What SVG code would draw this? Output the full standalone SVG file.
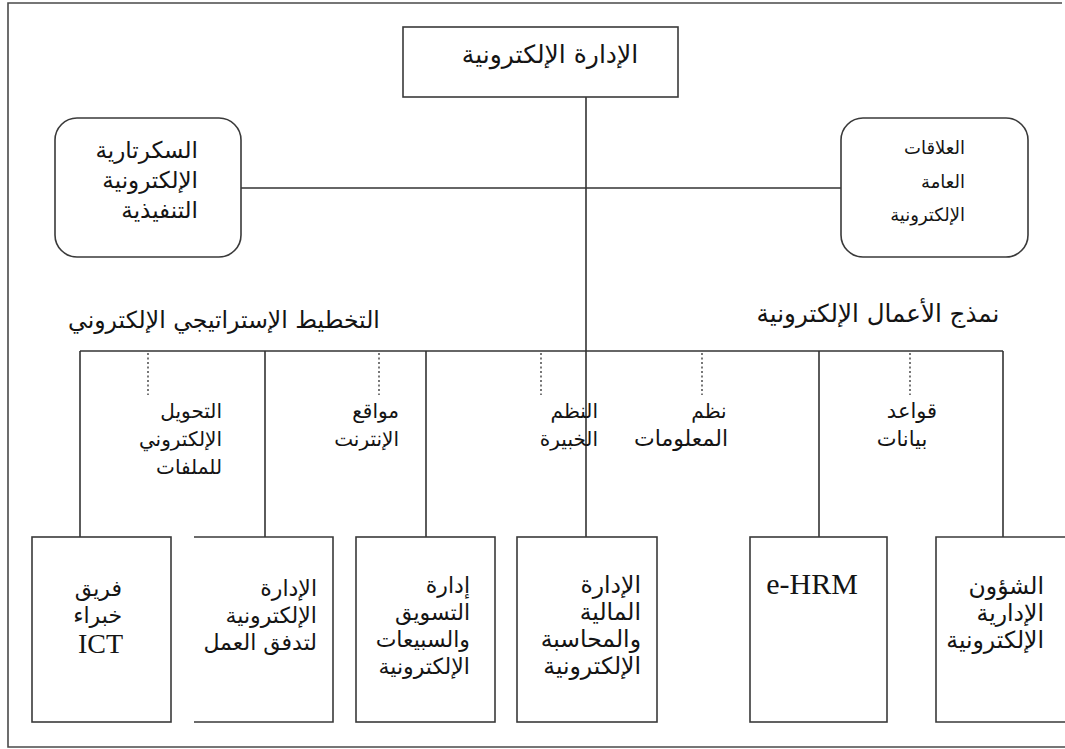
<svg xmlns="http://www.w3.org/2000/svg" width="1065" height="749" viewBox="0 0 1065 749">
  <style>
    .frame { fill: none; stroke: #4a4a4a; stroke-width: 1.6; }
    .box { fill: #ffffff; stroke: #3a3a3a; stroke-width: 1.6; }
    .line { fill: none; stroke: #333333; stroke-width: 1.6; }
    .dot { fill: none; stroke: #555555; stroke-width: 1.6; stroke-dasharray: 2 2.5; }
    text { font-family: "DejaVu Sans", sans-serif; fill: #141414; }
    .lat { font-family: "Liberation Serif", serif; }
    .r { text-anchor: end; }
    .m { text-anchor: middle; }
    .mid { font-size: 20px; }
    .low { font-size: 22px; }
    .big { font-size: 23.5px; }
  </style>

  <rect width="1065" height="749" fill="#ffffff"/>
  <!-- outer border -->
  <path class="frame" d="M1062 3 H8 V747 H1065"/>

  <!-- connectors -->
  <g id="connectors">
    <line class="line" x1="586" y1="97" x2="586" y2="351"/>
    <line class="line" x1="241" y1="188" x2="841" y2="188"/>
    <line class="line" x1="80" y1="351" x2="1003" y2="351"/>
    <line class="line" x1="80" y1="351" x2="80" y2="537"/>
    <line class="line" x1="265" y1="351" x2="265" y2="537"/>
    <line class="line" x1="426" y1="351" x2="426" y2="537"/>
    <line class="line" x1="586" y1="351" x2="586" y2="537"/>
    <line class="line" x1="819" y1="351" x2="819" y2="537"/>
    <line class="line" x1="1003" y1="351" x2="1003" y2="537"/>
    <line class="dot" x1="148" y1="353" x2="148" y2="395"/>
    <line class="dot" x1="379" y1="353" x2="379" y2="395"/>
    <line class="dot" x1="541" y1="353" x2="541" y2="395"/>
    <line class="dot" x1="702" y1="353" x2="702" y2="395"/>
    <line class="dot" x1="910" y1="353" x2="910" y2="395"/>
  </g>

  <!-- root -->
  <g id="root">
    <rect class="box" x="403" y="27" width="275" height="70"/>
    <text class="m" x="550" y="63" font-size="25">الإدارة الإلكترونية</text>
  </g>

  <!-- side units -->
  <g id="secretariat">
    <rect class="box" x="55" y="118" width="186" height="139" rx="22"/>
    <text class="r" x="198" y="158" font-size="23">السكرتارية</text>
    <text class="r" x="198" y="188" font-size="23">الإلكترونية</text>
    <text class="r" x="198" y="218" font-size="23">التنفيذية</text>
  </g>
  <g id="public-relations">
    <rect class="box" x="841" y="118" width="187" height="139" rx="22"/>
    <text class="r" x="965" y="154" font-size="18">العلاقات</text>
    <text class="r" x="965" y="188" font-size="18">العامة</text>
    <text class="r" x="965" y="221" font-size="18">الإلكترونية</text>
  </g>

  <!-- headings above the bus -->
  <g id="strategic-planning">
    <text class="m" x="224" y="328" font-size="23.5">التخطيط الإستراتيجي الإلكتروني</text>
  </g>
  <g id="business-model">
    <text class="m" x="878" y="322" font-size="24.6">نمذج الأعمال الإلكترونية</text>
  </g>

  <!-- dotted supporting labels -->
  <g id="file-conversion">
    <text class="r mid" x="222" y="418">التحويل</text>
    <text class="r mid" x="222" y="446">الإلكتروني</text>
    <text class="r mid" x="222" y="474">للملفات</text>
  </g>
  <g id="websites">
    <text class="r mid" x="399" y="418">مواقع</text>
    <text class="r mid" x="399" y="446">الإنترنت</text>
  </g>
  <g id="expert-systems">
    <text class="r mid" x="598" y="418">النظم</text>
    <text class="r mid" x="598" y="446">الخبيرة</text>
  </g>
  <g id="information-systems">
    <text class="m mid" x="709" y="418">نظم</text>
    <text class="m" x="681" y="446" font-size="22">المعلومات</text>
  </g>
  <g id="databases">
    <text class="m" x="912" y="418" font-size="21">قواعد</text>
    <text class="m" x="902" y="446" font-size="21">بيانات</text>
  </g>

  <!-- bottom units -->
  <g id="ict-team">
    <rect class="box" x="32" y="537" width="139" height="185"/>
    <text class="r low" x="122" y="596">فريق</text>
    <text class="r low" x="122" y="623">خبراء</text>
    <text class="lat r" x="123" y="653" font-size="28">ICT</text>
  </g>
  <g id="workflow">
    <path class="box" d="M194 537 H333 V722 H194"/>
    <text class="r low" x="317" y="596">الإدارة</text>
    <text class="r low" x="317" y="623">الإلكترونية</text>
    <text class="r low" x="317" y="650">لتدفق العمل</text>
  </g>
  <g id="marketing">
    <rect class="box" x="356" y="537" width="139" height="185"/>
    <text class="r low" x="470" y="593">إدارة</text>
    <text class="r low" x="470" y="620">التسويق</text>
    <text class="r low" x="470" y="647">والسبيعات</text>
    <text class="r low" x="470" y="674">الإلكترونية</text>
  </g>
  <g id="finance">
    <rect class="box" x="517" y="537" width="140" height="185"/>
    <text class="r big" x="641" y="593">الإدارة</text>
    <text class="r big" x="641" y="620">المالية</text>
    <text class="r big" x="641" y="647">والمحاسبة</text>
    <text class="r big" x="641" y="674">الإلكترونية</text>
  </g>
  <g id="e-hrm">
    <rect class="box" x="750" y="537" width="137" height="185"/>
    <text class="lat m" x="812" y="594" font-size="30">e-HRM</text>
  </g>
  <g id="admin-affairs">
    <path class="box" d="M1066 537 H936 V722 H1066"/>
    <text class="r big" x="1044" y="594">الشؤون</text>
    <text class="r big" x="1044" y="621">الإدارية</text>
    <text class="r big" x="1044" y="648">الإلكترونية</text>
  </g>
</svg>
